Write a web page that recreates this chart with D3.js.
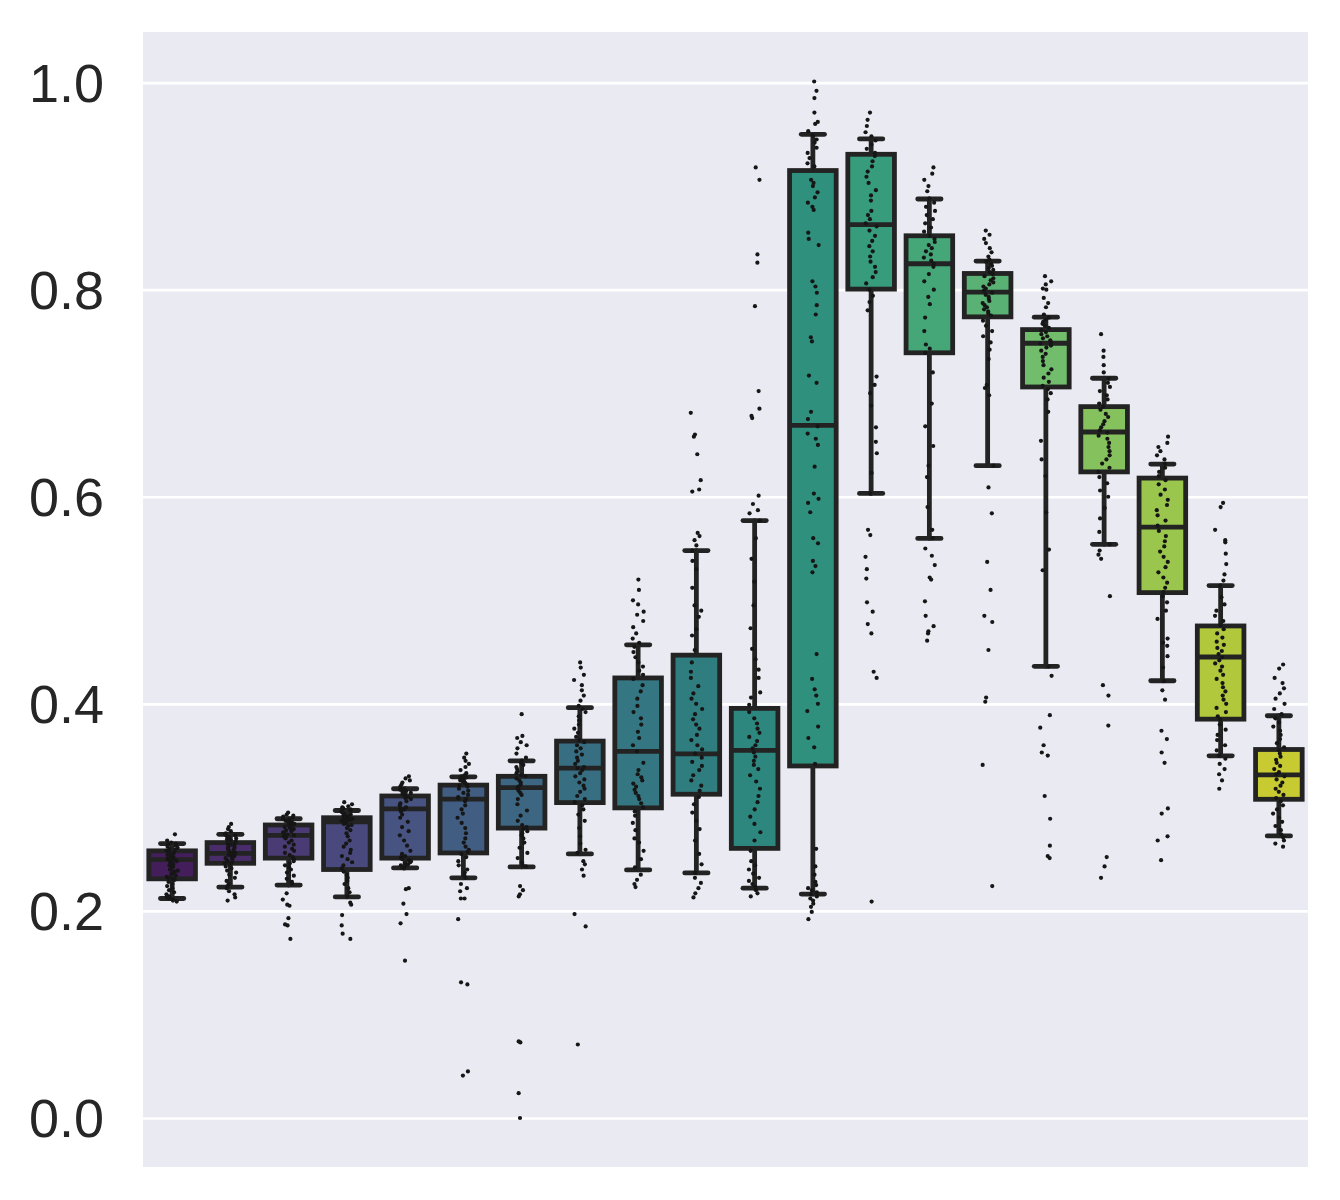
<!DOCTYPE html>
<html>
<head>
<meta charset="utf-8">
<script src="https://cdn.jsdelivr.net/npm/d3@7"></script>
<style>
  html, body { margin: 0; padding: 0; background: #ffffff; }
  svg { display: block; }
</style>
</head>
<body>
<svg id="chart" width="1340" height="1200"></svg>
<script>
// ---------------- DATA ----------------
const categories = ["0","1","2","3","4","5","6","7","8","9","10","11","12","13","14","15","16","17","18","19"];

const yTicks = [0.0, 0.2, 0.4, 0.6, 0.8, 1.0];
const yTickLabels = ["0.0", "0.2", "0.4", "0.6", "0.8", "1.0"];

// box statistics per category
const whiskerLow  = [0.212, 0.223, 0.225, 0.2135, 0.2415, 0.232, 0.2425, 0.255, 0.2396, 0.2367, 0.222, 0.2163, 0.6032, 0.5597, 0.630, 0.4362, 0.554, 0.4223, 0.3498, 0.2724];
const quartile1   = [0.231, 0.246, 0.251, 0.240, 0.251, 0.256, 0.280, 0.3046, 0.2995, 0.3127, 0.2604, 0.340, 0.8005, 0.739, 0.7737, 0.706, 0.624, 0.5074, 0.3852, 0.3078];
const medians     = [0.2495, 0.2556, 0.273, 0.286, 0.2985, 0.308, 0.319, 0.338, 0.354, 0.3517, 0.355, 0.669, 0.8627, 0.825, 0.7976, 0.7482, 0.6625, 0.5706, 0.4452, 0.3314];
const quartile3   = [0.258, 0.266, 0.283, 0.290, 0.311, 0.3215, 0.330, 0.364, 0.425, 0.447, 0.3956, 0.915, 0.9307, 0.852, 0.8156, 0.7614, 0.687, 0.618, 0.4752, 0.3559];
const whiskerHigh = [0.265, 0.274, 0.289, 0.297, 0.318, 0.3295, 0.345, 0.3963, 0.457, 0.548, 0.577, 0.950, 0.9455, 0.8875, 0.8276, 0.7734, 0.7144, 0.6315, 0.5142, 0.3885];

// individual observations (strip plot)
const points0 = [0.274,0.268,0.266,0.265,0.264,0.263,0.262,0.261,0.260,0.259,0.258,0.257,0.256,0.255,0.254,0.253,0.252,0.251,0.250,0.250,0.249,0.248,0.247,0.246,0.245,0.244,0.243,0.242,0.241,0.240,0.239,0.238,0.237,0.236,0.235,0.234,0.233,0.232,0.231,0.230,0.228,0.226,0.224,0.222,0.220,0.218,0.216,0.214,0.213,0.212,0.211,0.210,0.209];
const points1 = [0.284,0.281,0.279,0.277,0.275,0.274,0.273,0.272,0.271,0.270,0.269,0.268,0.267,0.266,0.265,0.264,0.263,0.262,0.261,0.260,0.259,0.258,0.257,0.256,0.255,0.255,0.254,0.253,0.252,0.251,0.250,0.249,0.248,0.247,0.246,0.245,0.243,0.241,0.239,0.237,0.235,0.232,0.229,0.226,0.224,0.222,0.219,0.216,0.213,0.210];
const points2 = [0.295,0.293,0.292,0.291,0.290,0.289,0.288,0.287,0.286,0.285,0.285,0.284,0.283,0.282,0.281,0.280,0.279,0.278,0.277,0.276,0.275,0.274,0.273,0.272,0.271,0.270,0.268,0.266,0.264,0.262,0.260,0.258,0.256,0.254,0.252,0.250,0.248,0.246,0.244,0.242,0.240,0.237,0.234,0.231,0.228,0.226,0.217,0.211,0.206,0.205,0.193,0.187,0.186,0.173];
const points3 = [0.305,0.303,0.301,0.300,0.299,0.298,0.297,0.296,0.295,0.294,0.293,0.292,0.291,0.291,0.290,0.290,0.289,0.289,0.288,0.288,0.287,0.287,0.286,0.285,0.284,0.283,0.282,0.280,0.278,0.275,0.272,0.268,0.265,0.262,0.259,0.256,0.253,0.250,0.247,0.244,0.241,0.238,0.235,0.232,0.229,0.226,0.222,0.218,0.214,0.208,0.206,0.196,0.186,0.178,0.173];
const points4 = [0.330,0.328,0.326,0.324,0.322,0.320,0.318,0.317,0.316,0.315,0.314,0.313,0.312,0.311,0.310,0.309,0.308,0.306,0.304,0.302,0.300,0.299,0.298,0.296,0.293,0.290,0.286,0.281,0.277,0.273,0.268,0.263,0.258,0.255,0.253,0.252,0.251,0.250,0.249,0.248,0.247,0.246,0.245,0.244,0.243,0.242,0.241,0.222,0.221,0.207,0.197,0.188,0.152];
const points5 = [0.352,0.348,0.345,0.342,0.339,0.336,0.333,0.331,0.330,0.329,0.328,0.327,0.326,0.325,0.324,0.323,0.322,0.321,0.320,0.318,0.316,0.314,0.312,0.310,0.309,0.308,0.306,0.302,0.298,0.294,0.290,0.285,0.280,0.275,0.270,0.266,0.262,0.259,0.257,0.255,0.252,0.248,0.244,0.240,0.237,0.234,0.232,0.226,0.222,0.219,0.212,0.212,0.192,0.131,0.129,0.045,0.041];
const points6 = [0.390,0.369,0.367,0.363,0.360,0.357,0.352,0.348,0.345,0.343,0.341,0.339,0.337,0.335,0.333,0.331,0.330,0.328,0.326,0.324,0.322,0.320,0.319,0.318,0.316,0.314,0.312,0.308,0.303,0.297,0.292,0.287,0.283,0.281,0.279,0.277,0.275,0.273,0.270,0.266,0.261,0.256,0.251,0.247,0.244,0.243,0.224,0.220,0.216,0.214,0.074,0.073,0.024,0.000];
const points7 = [0.440,0.435,0.428,0.423,0.418,0.413,0.408,0.403,0.398,0.395,0.392,0.388,0.384,0.380,0.376,0.372,0.368,0.365,0.363,0.360,0.357,0.354,0.351,0.348,0.345,0.342,0.339,0.338,0.336,0.333,0.330,0.327,0.324,0.321,0.318,0.315,0.311,0.308,0.305,0.302,0.298,0.293,0.287,0.280,0.272,0.265,0.259,0.256,0.248,0.245,0.240,0.234,0.197,0.185,0.071];
const points8 = [0.520,0.510,0.500,0.496,0.489,0.486,0.480,0.474,0.468,0.463,0.459,0.455,0.450,0.445,0.440,0.436,0.432,0.428,0.424,0.418,0.412,0.405,0.398,0.392,0.386,0.380,0.373,0.367,0.360,0.354,0.343,0.336,0.332,0.329,0.326,0.323,0.320,0.317,0.314,0.311,0.308,0.304,0.300,0.296,0.292,0.285,0.278,0.270,0.266,0.258,0.250,0.242,0.235,0.230,0.226,0.223];
const points9 = [0.681,0.660,0.658,0.641,0.616,0.607,0.605,0.565,0.562,0.558,0.553,0.548,0.538,0.530,0.512,0.495,0.490,0.484,0.472,0.466,0.452,0.440,0.431,0.425,0.417,0.410,0.405,0.400,0.395,0.390,0.385,0.380,0.376,0.370,0.365,0.360,0.356,0.352,0.348,0.344,0.340,0.336,0.331,0.326,0.321,0.316,0.310,0.303,0.295,0.287,0.279,0.268,0.255,0.245,0.237,0.232,0.227,0.222,0.217,0.213];
const points10 = [0.918,0.906,0.834,0.826,0.784,0.702,0.685,0.678,0.676,0.601,0.593,0.587,0.584,0.577,0.560,0.540,0.518,0.495,0.473,0.453,0.443,0.433,0.425,0.411,0.406,0.399,0.392,0.386,0.381,0.376,0.372,0.368,0.364,0.360,0.357,0.353,0.349,0.345,0.341,0.337,0.331,0.325,0.318,0.311,0.305,0.298,0.291,0.284,0.276,0.268,0.258,0.248,0.244,0.240,0.236,0.232,0.229,0.226,0.223,0.220,0.217,0.214];
const points11 = [1.001,0.992,0.985,0.971,0.962,0.960,0.953,0.949,0.945,0.942,0.937,0.932,0.927,0.922,0.919,0.906,0.903,0.900,0.894,0.889,0.884,0.880,0.877,0.855,0.849,0.843,0.808,0.803,0.797,0.785,0.776,0.754,0.750,0.717,0.710,0.682,0.675,0.668,0.661,0.656,0.650,0.629,0.603,0.598,0.594,0.585,0.560,0.555,0.538,0.533,0.527,0.448,0.424,0.414,0.408,0.400,0.393,0.378,0.367,0.358,0.342,0.260,0.243,0.235,0.228,0.225,0.222,0.220,0.218,0.216,0.214,0.212,0.210,0.207,0.204,0.199,0.192];
const points12 = [0.971,0.964,0.958,0.952,0.948,0.944,0.940,0.936,0.932,0.929,0.924,0.919,0.914,0.909,0.903,0.896,0.891,0.886,0.876,0.872,0.868,0.864,0.861,0.857,0.852,0.847,0.842,0.837,0.832,0.827,0.822,0.817,0.812,0.806,0.800,0.794,0.788,0.780,0.716,0.708,0.700,0.688,0.667,0.653,0.642,0.623,0.603,0.568,0.563,0.542,0.530,0.521,0.498,0.489,0.477,0.468,0.431,0.425,0.209];
const points13 = [0.918,0.912,0.906,0.900,0.895,0.888,0.884,0.880,0.876,0.872,0.868,0.864,0.860,0.856,0.852,0.849,0.846,0.843,0.840,0.837,0.834,0.831,0.828,0.825,0.822,0.815,0.808,0.800,0.793,0.786,0.773,0.760,0.747,0.743,0.739,0.720,0.690,0.668,0.649,0.630,0.619,0.590,0.568,0.560,0.550,0.543,0.534,0.522,0.520,0.499,0.485,0.475,0.470,0.468,0.461];
const points14 = [0.857,0.853,0.849,0.845,0.840,0.836,0.832,0.829,0.827,0.825,0.823,0.821,0.819,0.817,0.815,0.813,0.811,0.809,0.807,0.805,0.803,0.801,0.799,0.797,0.795,0.793,0.791,0.789,0.787,0.785,0.783,0.781,0.779,0.777,0.775,0.770,0.765,0.760,0.755,0.749,0.742,0.733,0.708,0.705,0.698,0.630,0.609,0.584,0.537,0.510,0.485,0.479,0.452,0.406,0.402,0.341,0.224];
const points15 = [0.813,0.808,0.805,0.801,0.800,0.792,0.787,0.783,0.776,0.773,0.771,0.769,0.767,0.765,0.763,0.761,0.759,0.757,0.755,0.753,0.751,0.749,0.748,0.746,0.744,0.741,0.738,0.735,0.731,0.727,0.723,0.719,0.715,0.711,0.707,0.704,0.700,0.694,0.682,0.654,0.636,0.620,0.585,0.549,0.529,0.436,0.427,0.389,0.377,0.360,0.353,0.350,0.311,0.289,0.263,0.253,0.251];
const points16 = [0.757,0.741,0.735,0.727,0.720,0.714,0.710,0.706,0.702,0.698,0.694,0.690,0.687,0.684,0.680,0.677,0.673,0.670,0.667,0.664,0.662,0.659,0.656,0.652,0.648,0.644,0.640,0.636,0.632,0.628,0.624,0.619,0.613,0.606,0.600,0.589,0.579,0.566,0.554,0.548,0.544,0.540,0.504,0.418,0.408,0.379,0.252,0.243,0.232];
const points17 = [0.658,0.652,0.648,0.644,0.640,0.636,0.632,0.628,0.624,0.620,0.616,0.612,0.607,0.602,0.597,0.592,0.587,0.582,0.577,0.572,0.567,0.562,0.557,0.552,0.547,0.542,0.537,0.532,0.527,0.522,0.517,0.512,0.508,0.504,0.498,0.490,0.482,0.463,0.459,0.456,0.446,0.435,0.422,0.413,0.404,0.374,0.366,0.353,0.343,0.299,0.294,0.272,0.268,0.249];
const points18 = [0.594,0.590,0.568,0.558,0.556,0.545,0.535,0.525,0.519,0.514,0.503,0.496,0.490,0.485,0.480,0.476,0.472,0.468,0.464,0.460,0.457,0.454,0.451,0.448,0.445,0.442,0.439,0.436,0.432,0.428,0.424,0.420,0.416,0.412,0.408,0.404,0.400,0.396,0.392,0.388,0.385,0.380,0.375,0.370,0.365,0.360,0.355,0.350,0.347,0.342,0.337,0.332,0.326,0.318];
const points19 = [0.438,0.434,0.425,0.420,0.415,0.410,0.405,0.400,0.395,0.390,0.386,0.382,0.378,0.374,0.370,0.366,0.362,0.358,0.355,0.352,0.349,0.346,0.343,0.340,0.337,0.334,0.332,0.330,0.327,0.324,0.321,0.318,0.315,0.312,0.309,0.306,0.302,0.298,0.294,0.290,0.286,0.282,0.278,0.274,0.271,0.268,0.265,0.262];

const pointSets = [points0,points1,points2,points3,points4,points5,points6,points7,points8,points9,
                   points10,points11,points12,points13,points14,points15,points16,points17,points18,points19];

// ---------------- LAYOUT ----------------
const plot = { left: 143, right: 1308, top: 32, bottom: 1167 };
const svg = d3.select("#chart");

const x = d3.scaleBand().domain(categories).range([plot.left, plot.right]).paddingInner(0).paddingOuter(0);
const y = d3.scaleLinear().domain([-0.0473, 1.0488]).range([plot.bottom, plot.top]);

// background
svg.append("rect")
  .attr("x", plot.left).attr("y", plot.top)
  .attr("width", plot.right - plot.left).attr("height", plot.bottom - plot.top)
  .attr("fill", "#EAEAF2");

// grid + y axis via d3.axisLeft
const yAxis = d3.axisLeft(y)
  .tickValues(yTicks)
  .tickFormat((d, i) => yTickLabels[i])
  .tickSize(-(plot.right - plot.left))
  .tickPadding(39);

const gAxis = svg.append("g")
  .attr("transform", `translate(${plot.left},0)`)
  .call(yAxis);
gAxis.select(".domain").remove();
gAxis.selectAll(".tick line").attr("stroke", "#ffffff").attr("stroke-width", 2.7);
gAxis.selectAll(".tick text")
  .attr("fill", "#262626")
  .attr("font-family", "'Liberation Sans', Arial, sans-serif")
  .attr("font-size", 54)
  .attr("dy", "0.35em");

// palette: seaborn viridis (n=20) desaturated by 0.75
const colors = categories.map((c, i) => {
  const h = d3.hsl(d3.interpolateViridis((i + 1) / (categories.length + 1)));
  h.s = h.s * 0.75;
  return h.formatHex();
});
const lineColor = "#232323";
const lw = 4.8;

const bw = x.bandwidth() * 0.8;
const capW = bw * 0.5;

const gBox = svg.append("g");
categories.forEach((c, i) => {
  const cx = x(c) + x.bandwidth() / 2;
  const g = gBox.append("g");
  // whiskers
  g.append("line").attr("x1", cx).attr("x2", cx)
    .attr("y1", y(quartile3[i])).attr("y2", y(whiskerHigh[i]))
    .attr("stroke", lineColor).attr("stroke-width", lw).attr("stroke-linecap", "round");
  g.append("line").attr("x1", cx).attr("x2", cx)
    .attr("y1", y(quartile1[i])).attr("y2", y(whiskerLow[i]))
    .attr("stroke", lineColor).attr("stroke-width", lw).attr("stroke-linecap", "round");
  // caps
  [whiskerHigh[i], whiskerLow[i]].forEach(v => {
    g.append("line").attr("x1", cx - capW / 2).attr("x2", cx + capW / 2)
      .attr("y1", y(v)).attr("y2", y(v))
      .attr("stroke", lineColor).attr("stroke-width", lw).attr("stroke-linecap", "round");
  });
  // box
  g.append("rect")
    .attr("x", cx - bw / 2).attr("width", bw)
    .attr("y", y(quartile3[i])).attr("height", y(quartile1[i]) - y(quartile3[i]))
    .attr("fill", colors[i]).attr("stroke", lineColor).attr("stroke-width", lw)
    .attr("stroke-linejoin", "miter");
  // median
  g.append("line").attr("x1", cx - bw / 2).attr("x2", cx + bw / 2)
    .attr("y1", y(medians[i])).attr("y2", y(medians[i]))
    .attr("stroke", lineColor).attr("stroke-width", lw);
});

// strip points with deterministic jitter (+-0.1 of category width)
function jitter(i, j) {
  const s = Math.sin((i + 1) * 12.9898 + (j + 1) * 78.233) * 43758.5453;
  return (s - Math.floor(s)) * 2 - 1;
}
const gPts = svg.append("g");
categories.forEach((c, i) => {
  const cx = x(c) + x.bandwidth() / 2;
  gPts.selectAll(null)
    .data(pointSets[i])
    .enter().append("circle")
    .attr("cx", (d, j) => cx + jitter(i, j) * x.bandwidth() * 0.1)
    .attr("cy", d => y(d))
    .attr("r", 2.1)
    .attr("fill", "#161616");
});
</script>
</body>
</html>
